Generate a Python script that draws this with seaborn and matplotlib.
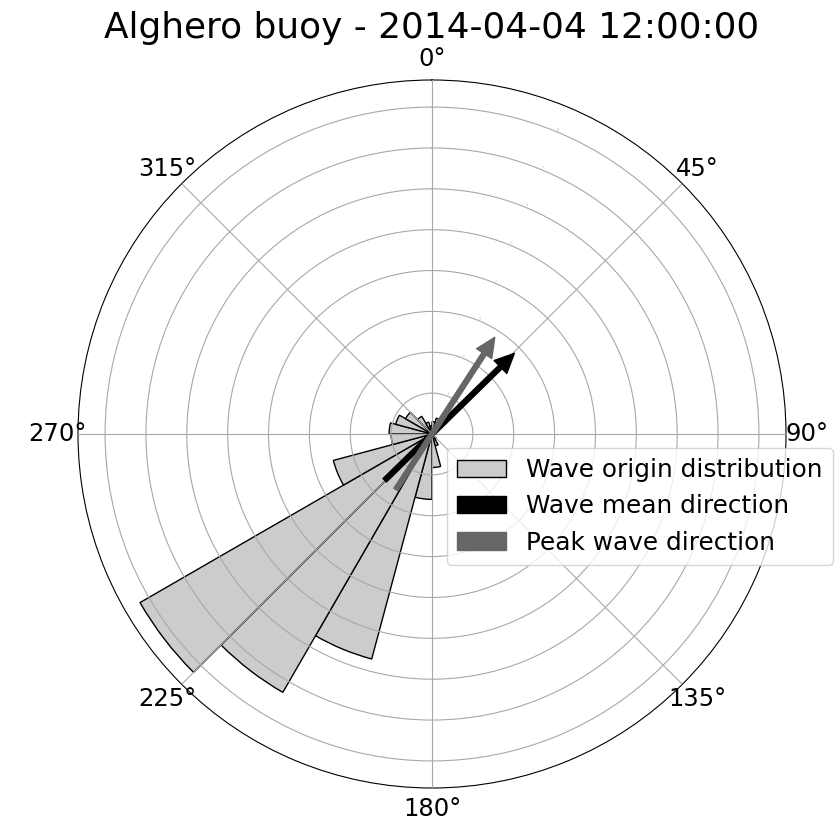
import numpy as np
import pandas as pd
import matplotlib
matplotlib.use("Agg")
import matplotlib.pyplot as plt
from matplotlib.patches import Patch
import seaborn as sns

# wave origin distribution, 15 degree sectors (start angle of each sector)
sector_start = [0, 15, 30, 45, 60, 75, 90, 105, 120, 135, 150, 165,
                180, 195, 210, 225, 240, 255, 270, 285, 300, 315, 330, 345]
sector_freq = [0.3, 0.4, 0.3, 0.0, 0.0, 0.0, 0.0, 0.0, 0.0, 0.15, 0.3, 0.82,
               1.6, 5.7, 7.3, 8.25, 2.5, 1.0, 1.05, 0.92, 0.75, 0.5, 0.3, 0.2]

mean_dir = 225.6   # wave mean direction (origin), deg
peak_dir = 213.0   # peak wave direction (origin), deg
arrow_tail = 1.62
arrow_head = 2.82

title = "Alghero buoy - 2014-04-04 12:00:00"

sector_width = 15
edges = list(np.deg2rad(np.arange(0, 361, sector_width)))
df = pd.DataFrame({
    "dir": np.deg2rad(np.array(sector_start) + sector_width / 2),
    "freq": sector_freq,
})

fig = plt.figure(figsize=(8.38, 8.24), dpi=100)
ax = fig.add_axes([78 / 838, 36 / 824, 708 / 838, 708 / 824], projection="polar")
ax.set_theta_zero_location("N")
ax.set_theta_direction(-1)

sns.histplot(data=df, x="dir", weights="freq", bins=edges, ax=ax,
             color="#cccccc", edgecolor="black", linewidth=1.0, alpha=1)
ax.set_xlabel("")
ax.set_ylabel("")
for bar in ax.patches:
    bar.set_zorder(0.8)

ax.set_ylim(0, max(sector_freq) * 1.05)
ax.set_yticks(np.arange(1, 9))
ax.set_yticklabels([str(i) for i in range(1, 9)])
ax.tick_params(axis="y", labelsize=2, labelcolor="#aaaaaa")
ax.set_xticks(np.deg2rad(np.arange(0, 360, 45)))
ax.set_xticklabels([f"{d}°" for d in range(0, 360, 45)])
ax.tick_params(axis="x", labelsize=17.5, pad=4.5)
ax.grid(True, color="#a8a8a8", linewidth=0.8)
ax.set_axisbelow(False)
ax.xaxis.set_zorder(2.5)
ax.yaxis.set_zorder(2.5)

# arrows: from origin side through the centre towards the propagation side
ax.annotate("", xy=(np.deg2rad(mean_dir + 180), arrow_head),
            xytext=(np.deg2rad(mean_dir), arrow_tail), zorder=4,
            arrowprops=dict(facecolor="black", edgecolor="black",
                            width=3.5, headwidth=13, headlength=14, shrink=0))
ax.annotate("", xy=(np.deg2rad(peak_dir + 180), arrow_head),
            xytext=(np.deg2rad(peak_dir), arrow_tail), zorder=4,
            arrowprops=dict(facecolor="#666666", edgecolor="#666666",
                            width=3.5, headwidth=13, headlength=14, shrink=0))

handles = [
    Patch(facecolor="#cccccc", edgecolor="black", label="Wave origin distribution"),
    Patch(facecolor="black", edgecolor="black", label="Wave mean direction"),
    Patch(facecolor="#666666", edgecolor="#666666", label="Peak wave direction"),
]
fig.legend(handles=handles, loc="upper left",
           bbox_to_anchor=(447 / 838, 1 - 448 / 824), borderaxespad=0,
           fontsize=17.8)

ax.set_title(title, fontsize=25.8, y=1.06, pad=0)

fig.savefig("out.png", dpi=100)
